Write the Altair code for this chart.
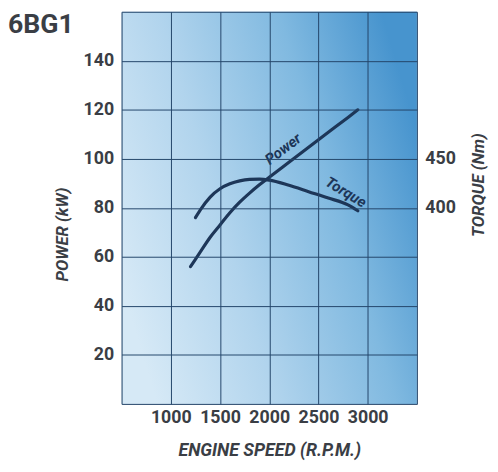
import altair as alt
import pandas as pd

TITLE = "6BG1"

RPM_POWER = [1200, 1300, 1400, 1500, 1600, 1700, 1800, 1900, 2000, 2200, 2400, 2600, 2800, 2900]
POWER_KW = [56, 62, 68, 73, 78, 82.3, 86, 89.4, 92.5, 98.6, 104.7, 110.8, 116.9, 120]

RPM_TORQUE = [1250, 1300, 1400, 1500, 1600, 1700, 1800, 1900, 2000, 2200, 2400, 2600, 2800, 2900]
TORQUE_NM = [390, 398, 411, 419.5, 424.5, 427.5, 429, 429.3, 428.3, 423, 416.5, 410, 403, 397]

X_DOMAIN = [500, 3500]
POWER_DOMAIN = [0, 160]
TORQUE_DOMAIN = [200, 600]
X_GRID = [500, 1000, 1500, 2000, 2500, 3000, 3500]
X_LABELS = [1000, 1500, 2000, 2500, 3000]
Y_GRID = [0, 20, 40, 60, 80, 100, 120, 140, 160]
Y_LABELS = [20, 40, 60, 80, 100, 120, 140]
TORQUE_TICKS = [400, 450]

LABEL_POWER = {"text": "Power", "rpm": 2140, "kw": 104}
LABEL_TORQUE = {"text": "Torque", "rpm": 2780, "nm": 416}

FONT = "Roboto, Liberation Sans, sans-serif"
TXT = "#3a3e45"
LINE = "#1d3658"
GRID = "#24456a"

power_df = pd.DataFrame({"rpm": RPM_POWER, "kw": POWER_KW})
torque_df = pd.DataFrame({"rpm": RPM_TORQUE, "nm": TORQUE_NM})
bg_df = pd.DataFrame({"x": [X_DOMAIN[0]], "x2": [X_DOMAIN[1]],
                      "y": [POWER_DOMAIN[0]], "y2": [POWER_DOMAIN[1]]})

xscale = alt.Scale(domain=X_DOMAIN, nice=False, zero=False)
pscale = alt.Scale(domain=POWER_DOMAIN, nice=False, zero=False)
tscale = alt.Scale(domain=TORQUE_DOMAIN, nice=False, zero=False)

x_label_expr = "indexof([" + ",".join(str(v) for v in X_LABELS) + "], datum.value) >= 0 ? toString(datum.value) : ''"
y_label_expr = "indexof([" + ",".join(str(v) for v in Y_LABELS) + "], datum.value) >= 0 ? toString(datum.value) : ''"

x_axis = alt.Axis(
    values=X_GRID, labelExpr=x_label_expr, grid=True, gridColor=GRID, gridWidth=1,
    domain=False, ticks=False, tickSize=0, labelPadding=5,
    labelFont=FONT, labelFontSize=18, labelFontWeight="bold", labelColor=TXT,
    title="ENGINE SPEED (R.P.M.)", titleFont=FONT, titleFontSize=18,
    titleFontWeight="bold", titleFontStyle="italic", titleColor=TXT,
    titleY=47, titleBaseline="middle", zindex=1,
)
y_axis = alt.Axis(
    values=Y_GRID, labelExpr=y_label_expr, grid=True, gridColor=GRID, gridWidth=1,
    domain=False, ticks=False, tickSize=0, labelPadding=8,
    labelFont=FONT, labelFontSize=18, labelFontWeight="bold", labelColor=TXT,
    title="POWER (kW)", titleFont=FONT, titleFontSize=17,
    titleFontWeight="bold", titleFontStyle="italic", titleColor=TXT,
    titleAngle=270, titleX=-60, titleY=225, titleBaseline="middle", titleAlign="center",
    zindex=1,
)
t_axis = alt.Axis(
    orient="right", values=TORQUE_TICKS, grid=False, domain=False, ticks=False, tickSize=0,
    labelPadding=8, labelFont=FONT, labelFontSize=18, labelFontWeight="bold", labelColor=TXT,
    title="TORQUE (Nm)", titleFont=FONT, titleFontSize=17,
    titleFontWeight="bold", titleFontStyle="italic", titleColor=TXT,
    titleAngle=270, titleX=62, titleY=175, titleBaseline="middle", titleAlign="center",
)

gradient = {
    "gradient": "linear", "x1": 0, "y1": 0.7, "x2": 1, "y2": 0.3,
    "stops": [
        {"offset": 0, "color": "#d6e9f6"},
        {"offset": 0.35, "color": "#b1d4ed"},
        {"offset": 0.7, "color": "#80b9e0"},
        {"offset": 1, "color": "#4794ce"},
    ],
}

bg = alt.Chart(bg_df).mark_rect(fill=gradient).encode(
    x=alt.X("x:Q", scale=xscale, axis=x_axis),
    x2="x2:Q",
    y=alt.Y("y:Q", scale=pscale, axis=y_axis),
    y2="y2:Q",
)

power_line = alt.Chart(power_df).mark_line(
    color=LINE, strokeWidth=3.2, interpolate="monotone", strokeCap="round"
).encode(
    x=alt.X("rpm:Q", scale=xscale),
    y=alt.Y("kw:Q", scale=pscale),
)

power_text = alt.Chart(pd.DataFrame([LABEL_POWER])).mark_text(
    font=FONT, fontSize=15, fontWeight="bold", fontStyle="italic", color=LINE, angle=323,
).encode(
    x=alt.X("rpm:Q", scale=xscale),
    y=alt.Y("kw:Q", scale=pscale),
    text="text:N",
)

torque_line = alt.Chart(torque_df).mark_line(
    color=LINE, strokeWidth=3.2, interpolate="monotone", strokeCap="round"
).encode(
    x=alt.X("rpm:Q", scale=xscale),
    y=alt.Y("nm:Q", scale=tscale, axis=t_axis),
)

torque_text = alt.Chart(pd.DataFrame([LABEL_TORQUE])).mark_text(
    font=FONT, fontSize=15, fontWeight="bold", fontStyle="italic", color=LINE, angle=31,
).encode(
    x=alt.X("rpm:Q", scale=xscale),
    y=alt.Y("nm:Q", scale=tscale),
    text="text:N",
)

left = alt.layer(bg, power_line, power_text)
right = alt.layer(torque_line, torque_text)

chart = alt.layer(left, right).resolve_scale(y="independent").properties(
    width=299,
    height=397,
    padding={"left": 0, "top": 0, "right": 4, "bottom": 0},
    title=alt.TitleParams(
        text=TITLE, anchor="start", frame="group", dx=-115, dy=27, offset=0,
        font=FONT, fontSize=27, fontWeight="bold", color=TXT,
    ),
).configure_view(stroke="#2b4866", strokeWidth=1.2).configure(background="white")

chart.save("out.html", embed_options={"renderer": "svg", "actions": False})
